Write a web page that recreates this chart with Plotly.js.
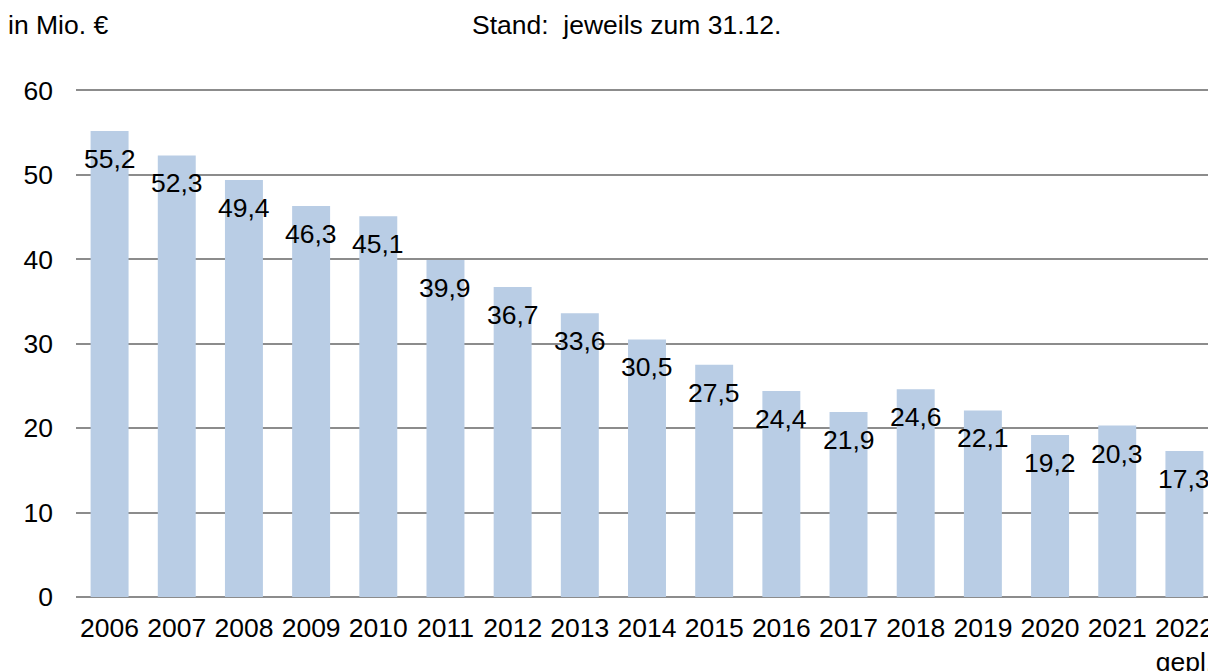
<!DOCTYPE html>
<html>
<head>
<meta charset="utf-8">
<script src="https://cdn.plot.ly/plotly-3.0.1.min.js"></script>
<style>
html,body{margin:0;padding:0;overflow:hidden;background:#fff;}
#chart{width:1240px;height:671px;}
</style>
</head>
<body>
<div id="chart"></div>
<script>
const categories = ["2006","2007","2008","2009","2010","2011","2012","2013","2014","2015","2016","2017","2018","2019","2020","2021","2022<br>gepl."];
const values = [55.2,52.3,49.4,46.3,45.1,39.9,36.7,33.6,30.5,27.5,24.4,21.9,24.6,22.1,19.2,20.3,17.3];
const labels = ["55,2","52,3","49,4","46,3","45,1","39,9","36,7","33,6","30,5","27,5","24,4","21,9","24,6","22,1","19,2","20,3","17,3"];
const yTicks = [0,10,20,30,40,50,60];

const positions = categories.map((c, i) => i);

const W = 1240, H = 671, L = 76, B = 74;
const YMAX = 60.4;
const pxPerUnit = 507 / 60;
const T = Math.round((90 - (YMAX - 60) * pxPerUnit) * 10) / 10;
const plotW = 17 * 67.2;
const R = W - L - plotW;
const plotH = H - T - B;
const FONT = "Liberation Sans, Arial, sans-serif";
const FS = 26.5;

const trace = {
  type: "bar",
  x: positions,
  y: values,
  marker: {color: "#B9CDE5"},
  hoverinfo: "none"
};

const valueAnnots = positions.map((p, i) => ({
  x: p, y: values[i], xref: "x", yref: "y",
  text: labels[i], showarrow: false,
  yanchor: "middle", xanchor: "center", yshift: -28,
  font: {family: FONT, size: FS, color: "#000"}
}));

const px2x = p => (p - L) / plotW;
const px2y = p => (H - B - p) / plotH;

const layout = {
  width: W, height: H,
  margin: {l: L, r: R, t: T, b: B},
  paper_bgcolor: "#fff", plot_bgcolor: "#fff",
  showlegend: false,
  bargap: 0.435,
  font: {family: FONT, size: FS, color: "#000"},
  xaxis: {
    range: [-0.5, categories.length - 0.5],
    tickvals: positions,
    ticktext: categories,
    tickangle: 0,
    tickfont: {family: FONT, size: FS, color: "#000"},
    showgrid: false, zeroline: false, showline: false,
    ticks: "", fixedrange: true, ticklabelstandoff: 12
  },
  yaxis: {
    range: [0, YMAX],
    tickvals: yTicks,
    ticktext: yTicks.map(String),
    tickfont: {family: FONT, size: FS, color: "#000"},
    showgrid: true, gridcolor: "#8C8C8C", gridwidth: 2,
    zeroline: true, zerolinecolor: "#8C8C8C", zerolinewidth: 2,
    showline: false, ticks: "", ticklabelstandoff: 22, fixedrange: true
  },
  annotations: valueAnnots.concat([
    {xref: "paper", yref: "paper", x: px2x(6), y: px2y(25), xanchor: "left", yanchor: "middle",
     text: "in Mio. €", showarrow: false, font: {family: FONT, size: FS, color: "#000"}},
    {xref: "paper", yref: "paper", x: px2x(470), y: px2y(25), xanchor: "left", yanchor: "middle",
     text: "Stand:  jeweils zum 31.12.", showarrow: false, font: {family: FONT, size: FS, color: "#000"}}
  ])
};

Plotly.newPlot("chart", [trace], layout, {displayModeBar: false, staticPlot: true});
</script>
</body>
</html>
